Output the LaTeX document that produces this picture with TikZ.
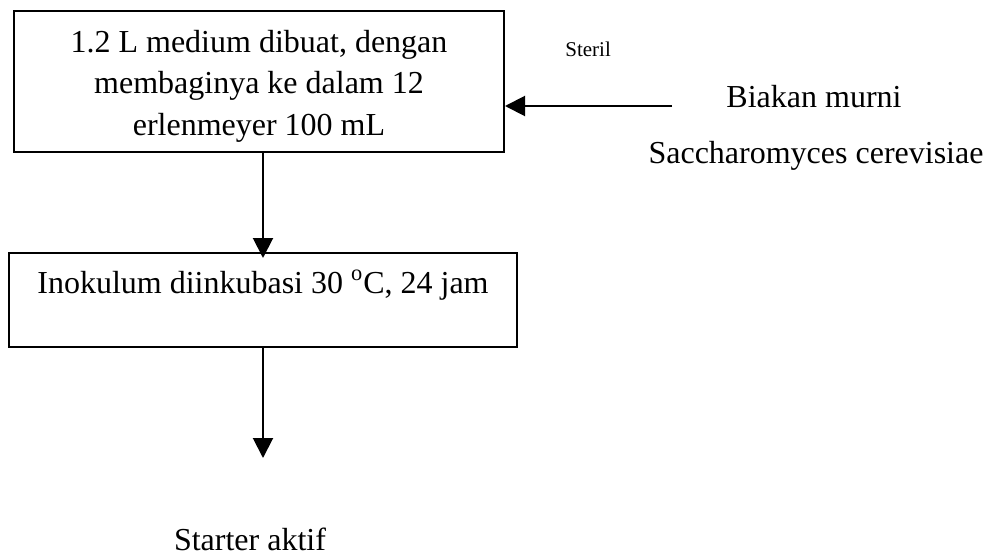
\documentclass[tikz,border=0pt]{standalone}
\usepackage{fontspec}
\setmainfont{Liberation Serif}
\usepackage{tikz}
\usetikzlibrary{arrows.meta, positioning}
\tikzstyle{box} = [rectangle, draw=black, line width=1pt, inner sep=0pt, align=center, font=\fontsize{16}{21}\selectfont]
\tikzstyle{txt} = [inner sep=0pt, align=center, font=\fontsize{16}{21}\selectfont]
\tikzstyle{small} = [inner sep=0pt, font=\fontsize{10.5}{12}\selectfont]
\tikzstyle{arrow} = [line width=1pt, -{Triangle[length=10pt,width=10pt]}]

\begin{document}
\begin{tikzpicture}[x=0.5pt, y=-0.5pt]
      \useasboundingbox (0,0) rectangle (991,556);
      \node [box, minimum width=245pt] (medium) at (259,81.5)
        {\rule{0pt}{20.5pt}1.2 L medium dibuat, dengan\\ membaginya ke dalam 12\\ erlenmeyer 100 mL\rule[-8pt]{0pt}{0pt}};
      \node [box, minimum width=254pt, text height=20pt, text depth=27pt] (inokulum) at (263,300)
        {Inokulum diinkubasi 30 \textsuperscript{o}C, 24 jam};
      \node [small, anchor=base west] (steril) at (565,57) {Steril};
      \node [txt, anchor=base] (biakan) at (814,108) {Biakan murni};
      \node [txt, anchor=base] (saccharo) at (816,163) {Saccharomyces cerevisiae};
      \node [txt, anchor=base] (starter) at (250,550) {Starter aktif};
      \coordinate (src) at (672,106);
      \coordinate (end) at (263,458);

      \draw [arrow, shorten >=-3pt] (medium.south -| inokulum.north) -- (inokulum.north);
      \draw [arrow] (inokulum.south) -- (end);
      \draw [arrow] (src) -- (src -| medium.east);
\end{tikzpicture}
\end{document}
